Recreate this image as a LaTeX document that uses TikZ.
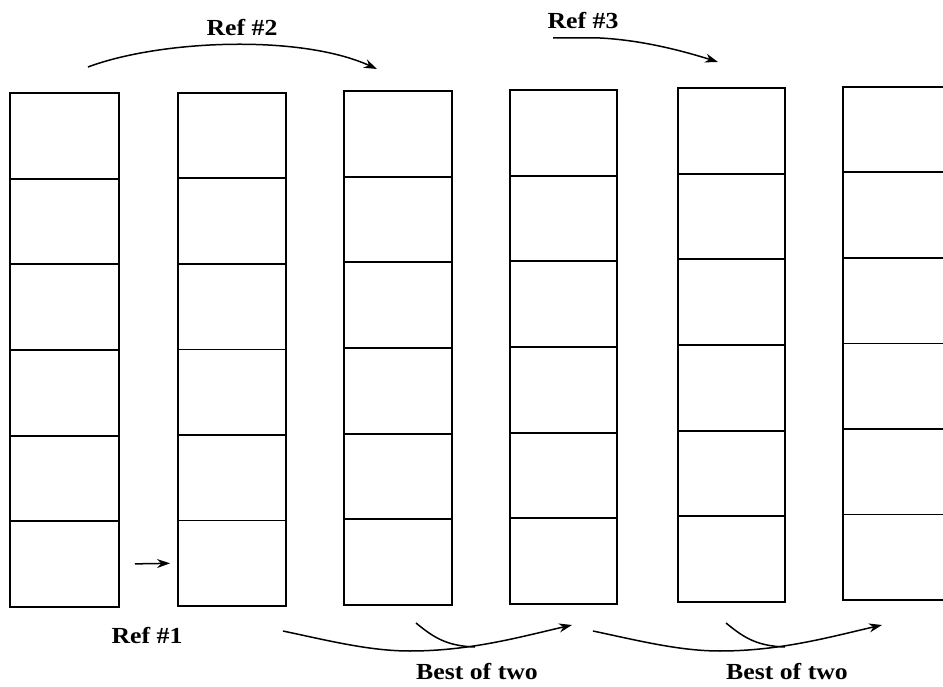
\documentclass[tikz,border=0pt]{standalone}
\usepackage{fontspec}
\setmainfont{Liberation Serif}[FakeStretch=1.12]
\usetikzlibrary{arrows.meta}
\tikzset{
  cellbox/.style={draw, line width=1.9pt, inner sep=0pt, anchor=north west},
  conn/.style={line width=1.5pt},
  arr/.style={line width=1.5pt, -{Stealth[length=13pt,width=9pt]}},
  lbl/.style={font=\bfseries\fontsize{23}{26}\selectfont, inner sep=0pt}
}
\begin{document}
\begin{tikzpicture}[x=1pt,y=-1pt]
\useasboundingbox (0,0) rectangle (943,687);
\clip (0,0) rectangle (943,687);
\foreach \i/\l/\r/\t/\b in {1/9/118/92/606, 2/177/285/92/605, 3/343/451/90/604, 4/509/616/89/603, 5/677/784/87/601, 6/842/958/86/599}{
  \pgfmathsetmacro\w{\r-\l}
  \pgfmathsetmacro\h{(\b-\t)/6}
  \foreach \j in {1,...,6}{
    \node[cellbox, minimum width=\w pt, minimum height=\h pt] (c\i\j) at (\l,{\t+(\j-1)*\h}) {};
  }
}
% labels
\node[lbl] (r2) at (242,28) {Ref \#2};
\node[lbl] (r3) at (583,21) {Ref \#3};
\node[lbl] (r1) at (147,636) {Ref \#1};
\node[lbl] (b1) at (477,672) {Best of two};
\node[lbl] (b2) at (787,672) {Best of two};
% Ref #2 arrow
\coordinate (a2s) at (88,67);
\coordinate (a2e) at (377,69);
\draw[arr] (a2s) .. controls (160,40) and (300,34) .. (a2e);
% Ref #3 arrow
\coordinate (a3s) at (553,38);
\coordinate (a3m) at (600,38);
\coordinate (a3e) at (718,62);
\draw[arr] (a3s) -- (a3m) .. controls (640,40) and (680,50) .. (a3e);
% Ref #1 arrow
\draw[arr, shorten <=15pt, shorten >=7pt] (c16.east) -- (c26.west);
% Best of two arrows
\coordinate (p1s) at (283,631);
\coordinate (p1m) at (410,651);
\coordinate (p1e) at (572,625);
\coordinate (q1s) at (416,623);
\coordinate (q1e) at (475,647);
\draw[arr] (p1s) .. controls (330,641) and (370,651) .. (p1m) .. controls (470,651) and (520,637) .. (p1e);
\draw[conn] (q1s) .. controls (432,636) and (445,646) .. (q1e);
\coordinate (p2s) at (593,631);
\coordinate (p2m) at (720,651);
\coordinate (p2e) at (882,625);
\coordinate (q2s) at (726,623);
\coordinate (q2e) at (785,647);
\draw[arr] (p2s) .. controls (640,641) and (680,651) .. (p2m) .. controls (780,651) and (830,637) .. (p2e);
\draw[conn] (q2s) .. controls (742,636) and (755,646) .. (q2e);
\end{tikzpicture}
\end{document}
